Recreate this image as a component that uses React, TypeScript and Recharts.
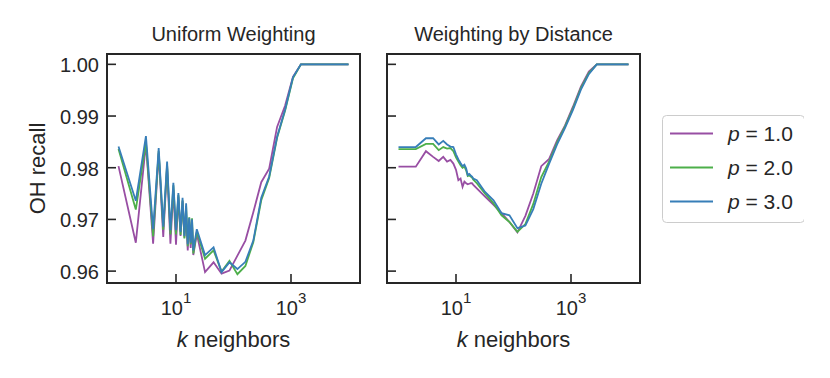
import { LineChart, Line, XAxis, YAxis, ReferenceArea, Legend, Label } from "recharts";

// k values (integers 1..20 then log-spaced)
const K = [
  1, 2, 3, 4, 5, 6, 7, 8, 9, 10, 11, 12, 13, 14, 15, 16, 17, 18, 19, 20,
  23, 32, 45, 62, 85, 117, 161, 221, 304, 417, 573, 788, 1082, 1487, 2043, 2807, 3856, 5298, 7278, 10000,
];

// Uniform weighting
const UNIFORM_P1 = [
  0.9803, 0.9655, 0.9846, 0.9653, 0.9828, 0.9666, 0.9802, 0.9653, 0.9757, 0.9651,
  0.9744, 0.9668, 0.9735, 0.9665, 0.9703, 0.964, 0.97, 0.9645, 0.969, 0.9631,
  0.9672, 0.9598, 0.9617, 0.9595, 0.9601, 0.963, 0.9659, 0.9714, 0.9772, 0.9798,
  0.9879, 0.992, 0.9976, 1.0, 1.0, 1.0, 1.0, 1.0, 1.0, 1.0,
];
const UNIFORM_P2 = [
  0.9836, 0.9719, 0.9849, 0.9667, 0.9832, 0.968, 0.9806, 0.9671, 0.9766, 0.9671,
  0.9747, 0.967, 0.9737, 0.9663, 0.9726, 0.9648, 0.9704, 0.9652, 0.9702, 0.9634,
  0.9676, 0.9624, 0.964, 0.9599, 0.962, 0.9594, 0.961, 0.9656, 0.9737, 0.978,
  0.9858, 0.991, 0.9973, 1.0, 1.0, 1.0, 1.0, 1.0, 1.0, 1.0,
];
const UNIFORM_P3 = [
  0.9841, 0.9736, 0.9861, 0.9681, 0.9838, 0.9686, 0.9812, 0.9679, 0.9771, 0.9679,
  0.9751, 0.9676, 0.9742, 0.9668, 0.9731, 0.9652, 0.9703, 0.9655, 0.97, 0.964,
  0.9681, 0.9631, 0.9646, 0.9598, 0.9617, 0.9604, 0.9618, 0.9659, 0.9742, 0.9783,
  0.986, 0.9912, 0.9975, 1.0, 1.0, 1.0, 1.0, 1.0, 1.0, 1.0,
];

// Weighting by distance
const DIST_P1 = [
  0.9802, 0.9802, 0.9832, 0.9821, 0.9813, 0.9821, 0.9812, 0.9815, 0.9808, 0.9796,
  0.9776, 0.9779, 0.9763, 0.9773, 0.977, 0.9768, 0.9769, 0.977, 0.977, 0.9767,
  0.976, 0.9744, 0.9728, 0.9712, 0.9695, 0.9675, 0.9707, 0.975, 0.9803, 0.9817,
  0.9853, 0.9882, 0.9918, 0.9957, 0.9986, 1.0, 1.0, 1.0, 1.0, 1.0,
];
const DIST_P2 = [
  0.9836, 0.9836, 0.9846, 0.9846, 0.9834, 0.984, 0.9837, 0.9838, 0.9832, 0.982,
  0.9812, 0.9805, 0.98, 0.9802, 0.9795, 0.9784, 0.9785, 0.9783, 0.9781, 0.9777,
  0.977, 0.975, 0.9731, 0.9708, 0.9695, 0.9676, 0.9691, 0.973, 0.9782, 0.9812,
  0.9849, 0.988, 0.9915, 0.9954, 0.9983, 1.0, 1.0, 1.0, 1.0, 1.0,
];
const DIST_P3 = [
  0.984, 0.984, 0.9857, 0.9857, 0.9845, 0.9852, 0.9845, 0.9841, 0.984, 0.9826,
  0.9816, 0.9809, 0.9803, 0.9806, 0.9799, 0.9786, 0.9788, 0.9785, 0.9783, 0.9779,
  0.9776, 0.9753, 0.9737, 0.9712, 0.9708, 0.9683, 0.9688, 0.972, 0.9769, 0.9808,
  0.9845, 0.9877, 0.9912, 0.9951, 0.9981, 1.0, 1.0, 1.0, 1.0, 1.0,
];

const P_LABELS = ["1.0", "2.0", "3.0"];
const COLORS = ["#984ea3", "#4daf4a", "#377eb8"];
const Y_TICKS = [0.96, 0.97, 0.98, 0.99, 1.0];
const X_TICKS = [10, 1000];

const X_DOMAIN: [number, number] = [Math.pow(10, -0.2), Math.pow(10, 4.2)];
const Y_DOMAIN: [number, number] = [0.9577, 1.002];
const INK = "#262626";
const FONT = '"Liberation Sans", Arial, sans-serif';

const toRows = (series: number[][]) =>
  K.map((k, i) => ({ k, p1: series[0][i], p2: series[1][i], p3: series[2][i] }));

const uniformRows = toRows([UNIFORM_P1, UNIFORM_P2, UNIFORM_P3]);
const distanceRows = toRows([DIST_P1, DIST_P2, DIST_P3]);

const XTick = (props: any) => {
  const { x, y, payload } = props;
  const exp = Math.round(Math.log10(payload.value));
  return (
    <g>
      <line x1={x} x2={x} y1={y} y2={y - 9} stroke={INK} strokeWidth={1.6} />
      <text x={x} y={y + 32} textAnchor="middle" fontSize={20} fill={INK}>
        10
        <tspan dy={-12} fontSize={15}>{exp}</tspan>
      </text>
    </g>
  );
};

const makeYTick = (showLabel: boolean) => (props: any) => {
  const { x, y, payload } = props;
  return (
    <g>
      <line x1={x} x2={x + 9} y1={y} y2={y} stroke={INK} strokeWidth={1.6} />
      {showLabel && (
        <text x={x - 8} y={y + 8} textAnchor="end" fontSize={20} fill={INK}>
          {payload.value.toFixed(2)}
        </text>
      )}
    </g>
  );
};

const KLabel = (props: any) => {
  const { viewBox } = props;
  return (
    <text x={viewBox.x + viewBox.width / 2} y={viewBox.y + 64} textAnchor="middle" fontSize={22} fill={INK}>
      <tspan fontStyle="italic">k</tspan> neighbors
    </text>
  );
};

const YLabel = (props: any) => {
  const { viewBox } = props;
  const cy = viewBox.y + viewBox.height / 2;
  return (
    <text x={45} y={cy} transform={`rotate(-90, 45, ${cy})`} textAnchor="middle" fontSize={22} fill={INK}>
      OH recall
    </text>
  );
};

const LegendBox = (props: any) => {
  const { payload } = props;
  return (
    <svg width={164} height={108} style={{ display: "block" }}>
      <rect x={22.5} y={0.5} width={142} height={107} rx={4} fill="#fff" stroke="#cccccc" strokeWidth={1} />
      {(payload || []).map((entry: any, i: number) => {
        const cy = 18.5 + i * 34;
        return (
          <g key={entry.value}>
            <line x1={30} x2={73} y1={cy} y2={cy} stroke={entry.color} strokeWidth={2} />
            <text x={88} y={cy + 7} fontSize={21} fill={INK}>
              <tspan fontStyle="italic">p</tspan>
              {entry.value.slice(1)}
            </text>
          </g>
        );
      })}
    </svg>
  );
};

type PanelProps = {
  title: string;
  rows: any[];
  width: number;
  yAxisWidth: number;
  marginRight: number;
  showYLabels: boolean;
  legendWidth?: number;
};

function Panel({ title, rows, width, yAxisWidth, marginRight, showYLabels, legendWidth = 0 }: PanelProps) {
  const plotCenter = (yAxisWidth + width - marginRight - legendWidth) / 2;
  return (
    <LineChart width={width} height={378} data={rows} margin={{ top: 54, right: marginRight, bottom: 0, left: 0 }}>
      <XAxis
        dataKey="k"
        type="number"
        scale="log"
        domain={X_DOMAIN}
        allowDataOverflow
        ticks={X_TICKS}
        interval={0}
        height={95}
        axisLine={false}
        tickLine={false}
        tickSize={0}
        tickMargin={0}
        tick={XTick}
      >
        <Label content={KLabel} />
      </XAxis>
      <YAxis
        type="number"
        domain={Y_DOMAIN}
        allowDataOverflow
        ticks={Y_TICKS}
        interval={0}
        width={yAxisWidth}
        axisLine={false}
        tickLine={false}
        tickSize={0}
        tickMargin={0}
        tick={makeYTick(showYLabels)}
      >
        {showYLabels && <Label content={YLabel} />}
      </YAxis>
      <ReferenceArea
        x1={X_DOMAIN[0]}
        x2={X_DOMAIN[1]}
        y1={Y_DOMAIN[0]}
        y2={Y_DOMAIN[1]}
        fill="none"
        stroke={INK}
        strokeWidth={2}
        ifOverflow="visible"
      />
      {P_LABELS.map((p, i) => (
        <Line
          key={p}
          dataKey={`p${i + 1}`}
          name={`p = ${p}`}
          stroke={COLORS[i]}
          strokeWidth={1.8}
          dot={false}
          activeDot={false}
          isAnimationActive={false}
        />
      ))}
      {legendWidth > 0 && (
        <Legend
          layout="vertical"
          align="right"
          verticalAlign="middle"
          width={legendWidth}
          wrapperStyle={{ top: 115, width: legendWidth }}
          content={LegendBox}
        />
      )}
      <text x={plotCenter} y={41} textAnchor="middle" fontSize={20} fill={INK}>
        {title}
      </text>
    </LineChart>
  );
}

export default function App() {
  return (
    <div style={{ position: "absolute", left: 0, top: 0, width: 830, height: 378, background: "#fff", fontFamily: FONT }}>
      <div style={{ position: "absolute", left: 0, top: 0 }}>
        <Panel title="Uniform Weighting" rows={uniformRows} width={371} yAxisWidth={107} marginRight={11} showYLabels />
      </div>
      <div style={{ position: "absolute", left: 380, top: 0 }}>
        <Panel
          title="Weighting by Distance"
          rows={distanceRows}
          width={450}
          yAxisWidth={7}
          marginRight={26}
          showYLabels={false}
          legendWidth={164}
        />
      </div>
    </div>
  );
}
